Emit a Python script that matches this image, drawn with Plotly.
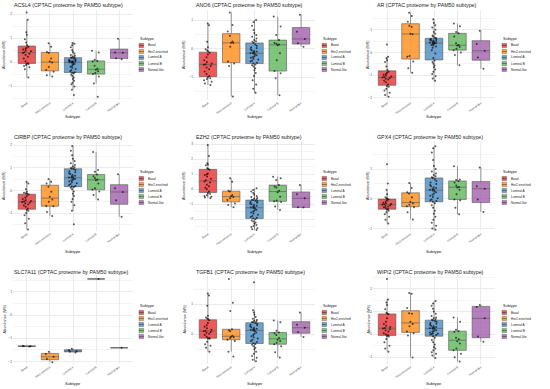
import plotly.graph_objects as go

SUBTYPES = ["Basal", "Her2-enriched", "Luminal A", "Luminal B", "Normal-like"]
COLORS = ["rgba(228,26,28,0.72)", "rgba(255,127,0,0.72)", "rgba(55,126,184,0.72)",
          "rgba(77,175,74,0.72)", "rgba(152,78,163,0.72)"]
GENES = ["ACSL4", "ANO6", "AR", "CIRBP", "EZH2", "GPX4", "SLC7A11", "TGFB1", "WIPI2"]

# values per subtype (Basal, Her2-enriched, Luminal A, Luminal B, Normal-like)
ACSL4 = [
    [2.07, 1.76, 1.24, 1.14, 0.95, 0.82, 0.70, 0.64, 0.60, 0.56, 0.52, 0.48, 0.45, 0.41, 0.38, 0.35, 0.30, 0.22, 0.15, 0.02, -0.05, -0.07, -0.09, -0.12, -0.16, -0.22, -0.30, -0.64],
    [0.78, 0.64, 0.42, 0.38, 0.15, 0.02, -0.02, -0.20, -0.33, -0.40, -0.55, -0.60],
    [0.80, 0.76, 0.70, 0.62, 0.50, 0.42, 0.36, 0.30, 0.26, 0.22, 0.20, 0.19, 0.17, 0.15, 0.12, 0.10, 0.08, 0.06, 0.05, 0.03, 0.02, 0.01, 0.00, -0.01, -0.03, -0.05, -0.08, -0.11, -0.15, -0.19, -0.24, -0.29, -0.34, -0.38, -0.42, -0.44, -0.47, -0.52, -0.58, -0.64, -0.70, -0.78, -0.86, -0.92, -1.02, -1.15, -1.37],
    [0.47, 0.40, 0.10, 0.05, 0.02, -0.15, -0.28, -0.32, -0.38, -0.45, -0.50, -0.60, -0.89, -1.44],
    [0.97, 0.40, 0.39, 0.16, 0.12],
]
ANO6 = [
    [0.88, 0.82, 0.24, 0.05, -0.02, -0.06, -0.10, -0.14, -0.20, -0.30, -0.40, -0.46, -0.52, -0.54, -0.56, -0.60, -0.66, -0.72, -0.80, -0.88, -0.95, -1.00, -1.03, -1.06, -1.10, -1.15, -1.21, -1.27],
    [1.26, 0.83, 0.60, 0.45, 0.25, 0.21, 0.20, 0.07, -0.45, -0.52, -0.60, -1.67],
    [1.00, 0.93, 0.80, 0.65, 0.55, 0.48, 0.42, 0.36, 0.30, 0.26, 0.24, 0.20, 0.15, 0.10, 0.05, 0.02, -0.02, -0.05, -0.08, -0.10, -0.12, -0.14, -0.15, -0.17, -0.20, -0.23, -0.26, -0.29, -0.32, -0.35, -0.38, -0.42, -0.45, -0.49, -0.52, -0.55, -0.58, -0.62, -0.68, -0.75, -0.85, -0.95, -1.10, -1.25, -1.40, -1.54],
    [1.12, 0.77, 0.48, 0.30, 0.20, 0.17, 0.15, 0.12, -0.16, -0.40, -0.78, -0.86, -1.03, -1.62],
    [1.18, 0.59, 0.34, 0.19, 0.07],
]
AR = [
    [0.35, -0.19, -0.26, -0.35, -0.42, -0.62, -0.78, -0.85, -0.90, -0.95, -0.99, -1.02, -1.06, -1.09, -1.11, -1.13, -1.16, -1.20, -1.25, -1.32, -1.42, -1.48, -1.52, -1.60, -1.68, -1.78, -1.88, -1.96],
    [1.75, 1.60, 1.35, 1.18, 1.12, 0.82, 0.80, -0.16, -0.19, -0.40, -0.70, -0.90],
    [1.46, 1.30, 1.20, 1.10, 1.00, 0.90, 0.82, 0.75, 0.70, 0.66, 0.63, 0.60, 0.58, 0.56, 0.54, 0.52, 0.50, 0.48, 0.46, 0.44, 0.42, 0.41, 0.40, 0.38, 0.36, 0.33, 0.30, 0.26, 0.20, 0.10, -0.05, -0.25, -0.36, -0.42, -0.50, -0.58, -0.66, -0.75, -0.85, -0.95, -1.05, -1.15, -1.25],
    [1.28, 1.15, 0.90, 0.84, 0.70, 0.40, 0.33, 0.30, 0.24, 0.16, 0.10, -0.01, -0.12, -0.57],
    [0.96, 0.37, 0.07, -0.22, -0.72],
]
CIRBP = [
    [0.38, 0.30, 0.05, -0.06, -0.10, -0.13, -0.15, -0.18, -0.25, -0.32, -0.38, -0.43, -0.47, -0.49, -0.51, -0.54, -0.58, -0.62, -0.66, -0.72, -0.80, -0.86, -0.90, -1.00, -1.10, -1.25, -1.45, -1.72],
    [0.50, 0.38, 0.30, 0.16, -0.06, -0.28, -0.40, -0.50, -0.69, -0.70, -0.95, -1.13],
    [1.96, 1.75, 1.55, 1.40, 1.30, 1.20, 1.12, 1.06, 1.02, 0.99, 0.97, 0.95, 0.90, 0.85, 0.80, 0.76, 0.72, 0.68, 0.65, 0.62, 0.59, 0.57, 0.56, 0.53, 0.50, 0.47, 0.44, 0.40, 0.36, 0.32, 0.28, 0.24, 0.20, 0.17, 0.15, 0.12, 0.05, -0.05, -0.15, -0.25, -0.38, -0.50, -0.65, -0.90, -1.49],
    [1.70, 0.90, 0.82, 0.70, 0.62, 0.55, 0.48, 0.45, 0.30, 0.10, 0.03, -0.05, -0.20, -0.40],
    [0.71, 0.10, -0.07, -0.43, -1.16],
]
EZH2 = [
    [2.96, 2.22, 1.73, 1.66, 1.60, 1.40, 1.36, 1.30, 1.05, 1.00, 0.95, 0.85, 0.70, 0.60, 0.52, 0.45, 0.30, 0.20, 0.10, 0.00, -0.15, -0.27, -0.30, -0.40, -0.45, -0.50, -0.55, -0.60],
    [0.73, 0.51, -0.10, -0.15, -0.38, -0.47, -0.51, -0.60, -0.72, -0.95, -1.05, -1.20],
    [0.07, -0.05, -0.15, -0.25, -0.35, -0.45, -0.52, -0.58, -0.62, -0.66, -0.69, -0.72, -0.76, -0.80, -0.85, -0.90, -0.95, -1.00, -1.05, -1.10, -1.15, -1.19, -1.21, -1.25, -1.30, -1.36, -1.42, -1.48, -1.55, -1.62, -1.70, -1.78, -1.85, -1.90, -1.95, -2.00, -2.08, -2.15, -2.22, -2.30, -2.38, -2.45, -2.52, -2.60, -2.66, -2.71],
    [0.84, 0.73, 0.62, 0.28, 0.18, 0.12, -0.10, -0.20, -0.50, -0.75, -0.80, -0.85, -1.15, -1.38],
    [0.29, -0.33, -0.60, -1.20, -1.22],
]
GPX4 = [
    [1.16, 0.51, 0.30, 0.15, 0.05, 0.02, 0.00, -0.02, -0.06, -0.10, -0.13, -0.15, -0.17, -0.18, -0.20, -0.22, -0.24, -0.26, -0.28, -0.31, -0.34, -0.36, -0.40, -0.45, -0.52, -0.60, -0.70, -0.83],
    [0.53, 0.36, 0.22, 0.18, 0.05, -0.10, -0.15, -0.20, -0.25, -0.28, -0.45, -0.69],
    [1.76, 1.70, 1.55, 1.30, 1.10, 1.00, 0.92, 0.85, 0.80, 0.76, 0.72, 0.70, 0.66, 0.60, 0.55, 0.50, 0.46, 0.42, 0.39, 0.36, 0.33, 0.31, 0.30, 0.28, 0.25, 0.22, 0.18, 0.14, 0.10, 0.06, 0.02, -0.02, -0.05, -0.07, -0.10, -0.15, -0.22, -0.30, -0.40, -0.50, -0.60, -0.70, -0.80, -0.90, -1.00, -1.04],
    [1.09, 0.65, 0.63, 0.60, 0.55, 0.45, 0.40, 0.38, 0.30, 0.15, -0.02, -0.05, -0.30, -0.52],
    [1.05, 0.42, 0.34, -0.02, -0.44],
]
SLC7A11 = [
    [-1.32, -1.34, -1.34, -1.36],
    [-1.58, -1.68, -1.80, -1.89, -2.03],
    [-1.45, -1.51, -1.56, -1.58, -1.61],
    [1.56],
    [-1.41],
]
TGFB1 = [
    [1.36, 1.30, 0.95, 0.62, 0.56, 0.53, 0.50, 0.47, 0.38, 0.30, 0.25, 0.20, 0.15, 0.12, 0.10, 0.08, 0.05, 0.02, -0.02, -0.08, -0.12, -0.14, -0.15, -0.25, -0.33, -0.38, -0.45, -0.58],
    [1.85, 1.05, 0.78, 0.17, 0.14, 0.10, -0.05, -0.08, -0.10, -0.12, -0.18, -0.22, -0.58, -0.74],
    [1.74, 0.80, 0.73, 0.65, 0.58, 0.52, 0.48, 0.45, 0.43, 0.41, 0.40, 0.38, 0.35, 0.32, 0.30, 0.27, 0.24, 0.21, 0.19, 0.17, 0.16, 0.15, 0.13, 0.10, 0.06, 0.02, -0.02, -0.06, -0.10, -0.14, -0.18, -0.22, -0.26, -0.30, -0.32, -0.35, -0.40, -0.45, -0.50, -0.58, -0.65, -0.72, -0.78, -0.85, -0.90],
    [0.46, 0.40, 0.12, 0.06, 0.04, -0.02, -0.12, -0.18, -0.22, -0.28, -0.33, -0.40, -0.60, -0.77],
    [0.73, 0.32, 0.22, 0.08, -0.09],
]
WIPI2 = [
    [2.43, 1.53, 1.40, 1.28, 1.10, 0.95, 0.91, 0.88, 0.70, 0.55, 0.45, 0.38, 0.32, 0.28, 0.26, 0.22, 0.18, 0.12, 0.05, 0.00, -0.04, -0.07, -0.10, -0.20, -0.35, -0.50, -0.62, -0.76],
    [1.81, 1.78, 1.15, 0.92, 0.90, 0.55, 0.45, 0.35, 0.12, 0.05, -0.05, -1.01],
    [1.46, 1.35, 1.25, 1.12, 1.00, 0.90, 0.80, 0.74, 0.70, 0.66, 0.64, 0.62, 0.58, 0.55, 0.50, 0.46, 0.42, 0.38, 0.35, 0.32, 0.30, 0.29, 0.27, 0.25, 0.22, 0.18, 0.15, 0.12, 0.08, 0.05, 0.03, 0.01, -0.01, -0.03, -0.08, -0.15, -0.25, -0.35, -0.45, -0.55, -0.62, -0.70, -0.78, -0.85, -0.93, -1.04],
    [0.74, 0.55, 0.20, 0.14, 0.10, -0.15, -0.22, -0.30, -0.40, -0.62, -0.70, -0.85, -1.00, -1.19],
    [1.29, 1.20, 0.70, -0.09, -0.33],
]
DATA = [ACSL4, ANO6, AR, CIRBP, EZH2, GPX4, SLC7A11, TGFB1, WIPI2]
Y_RANGES = [[-1.58, 2.17], [-1.79, 1.35], [-2.10, 1.87], [-1.79, 2.18], [-2.78, 3.22],
            [-1.08, 1.94], [-2.11, 1.73], [-0.99, 1.98], [-1.30, 2.60]]

W, H = 550, 389
COL_X = [(13, 133), (194, 315), (373, 495)]
ROW_Y = [(10, 100), (141, 231), (275, 364)]
TITLE_X = [12, 194, 375]
TITLE_Y = [5, 137, 272]
YTITLE_X = [4, 184, 368]
XTITLE_Y = [117, 252, 383]
LEG_X = [139, 322, 502]
LEG_TY = [39, 172, 306]

FONT = "Liberation Sans, Arial, sans-serif"

def px(x):
    return x / W

def py(y):
    return 1 - y / H

fig = go.Figure()
layout = dict(
    width=W, height=H, margin=dict(l=0, r=0, t=0, b=0),
    paper_bgcolor="white", plot_bgcolor="white",
    boxmode="overlay", showlegend=False,
    font=dict(family=FONT, color="#4d4d4d"),
)
annotations = []
shapes = []

for k, gene in enumerate(GENES):
    r, c = divmod(k, 3)
    sfx = "" if k == 0 else str(k + 1)
    xa, ya = "x" + sfx, "y" + sfx
    for i, sub in enumerate(SUBTYPES):
        vals = DATA[k][i]
        fig.add_trace(go.Box(
            y=vals, x=[sub] * len(vals), name=sub, width=0.75,
            boxpoints="all", jitter=0.55, pointpos=0, whiskerwidth=0,
            fillcolor=COLORS[i], line=dict(color="#555555", width=0.6),
            marker=dict(color="rgba(0,0,0,0.65)", size=2.0),
            xaxis=xa, yaxis=ya, showlegend=False,
        ))
    x0, x1 = COL_X[c]
    y0, y1 = ROW_Y[r]
    layout["xaxis" + sfx] = dict(
        domain=[px(x0), px(x1)], anchor=ya, type="category",
        categoryorder="array", categoryarray=SUBTYPES, range=[-0.6, 4.6],
        showgrid=True, gridcolor="#ebebeb", gridwidth=0.5, zeroline=False,
        showline=False, ticks="", tickangle=-35,
        tickfont=dict(size=2.9, color="#4d4d4d", family=FONT),
    )
    lo, hi = Y_RANGES[k]
    layout["yaxis" + sfx] = dict(
        domain=[py(y1), py(y0)], anchor=xa, range=[lo, hi],
        dtick=1, tick0=0, showgrid=True, gridcolor="#ebebeb", gridwidth=0.5,
        minor=dict(dtick=0.5, tick0=0, showgrid=True, gridcolor="#f4f4f4", gridwidth=0.3),
        zeroline=False, showline=False, ticks="",
        tickfont=dict(size=3.2, color="#4d4d4d", family=FONT),
    )
    # panel title
    annotations.append(dict(
        text=f"{gene} (CPTAC proteome by PAM50 subtype)", x=px(TITLE_X[c]), y=py(TITLE_Y[r]),
        xref="paper", yref="paper", xanchor="left", yanchor="middle", showarrow=False,
        font=dict(size=5.3, color="#1a1a1a", family=FONT),
    ))
    # axis titles
    annotations.append(dict(
        text="Abundance (MS)", x=px(YTITLE_X[c]), y=py((y0 + y1) / 2),
        xref="paper", yref="paper", xanchor="center", yanchor="middle", textangle=-90,
        showarrow=False, font=dict(size=3.8, color="#1a1a1a", family=FONT),
    ))
    annotations.append(dict(
        text="Subtype", x=px((x0 + x1) / 2), y=py(XTITLE_Y[r]),
        xref="paper", yref="paper", xanchor="center", yanchor="middle",
        showarrow=False, font=dict(size=4.2, color="#1a1a1a", family=FONT),
    ))
    # legend
    lx = LEG_X[c]
    ty = LEG_TY[r]
    annotations.append(dict(
        text="Subtype", x=px(lx - 1), y=py(ty), xref="paper", yref="paper",
        xanchor="left", yanchor="middle", showarrow=False,
        font=dict(size=3.8, color="#1a1a1a", family=FONT),
    ))
    for i, sub in enumerate(SUBTYPES):
        yc = ty + 6.5 + i * 6.0
        shapes.append(dict(
            type="rect", xref="paper", yref="paper",
            x0=px(lx), x1=px(lx + 4.6), y0=py(yc + 2.1), y1=py(yc - 2.1),
            fillcolor=COLORS[i], line=dict(color="#555555", width=0.4),
        ))
        shapes.append(dict(
            type="line", xref="paper", yref="paper",
            x0=px(lx), x1=px(lx + 4.6), y0=py(yc), y1=py(yc),
            line=dict(color="#333333", width=0.5),
        ))
        annotations.append(dict(
            text=sub, x=px(lx + 6.5), y=py(yc), xref="paper", yref="paper",
            xanchor="left", yanchor="middle", showarrow=False,
            font=dict(size=3.1, color="#1a1a1a", family=FONT),
        ))

layout["annotations"] = annotations
layout["shapes"] = shapes
fig.update_layout(**layout)
fig.write_html(
    "out.html",
    config={"displayModeBar": False},
    post_script="document.body.style.margin='0';document.body.style.overflow='hidden';",
)
